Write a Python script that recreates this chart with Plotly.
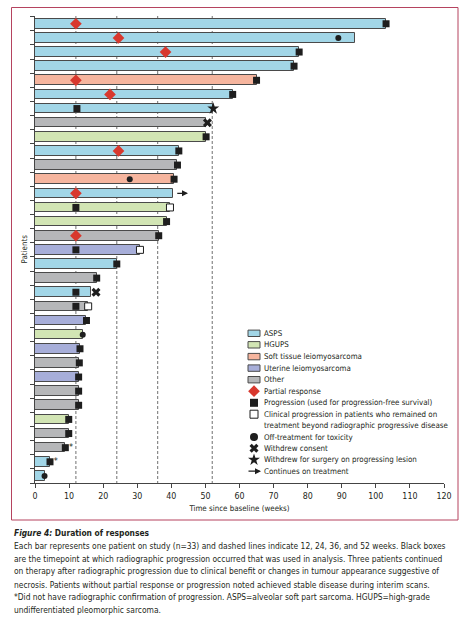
import plotly.graph_objects as go

# ---------------- data ----------------
patients = list(range(1, 34))
durations = [103, 94, 77.5, 76, 65, 58, 52.3, 50.3, 50.2, 42.2, 41.8, 40.8, 40.6, 39.6, 38.6, 36.3,
             30.8, 24, 18.1, 16.3, 15.6, 15.1, 14, 13.2, 13, 12.8, 12.8, 12.8, 9.9, 9.9, 8.9, 4.4, 2.8]
tumour = ["ASPS", "ASPS", "ASPS", "ASPS", "STLMS", "ASPS", "ASPS", "Other", "HGUPS", "ASPS", "Other",
          "STLMS", "ASPS", "HGUPS", "HGUPS", "Other", "Uterine", "ASPS", "Other", "ASPS", "Other",
          "Uterine", "HGUPS", "Uterine", "Other", "Uterine", "Other", "Other", "HGUPS", "Other",
          "Other", "ASPS", "ASPS"]

pr_pat = [1, 2, 3, 5, 6, 10, 13, 16]
pr_wk = [12, 24.5, 38.3, 12, 22, 24.5, 12, 12]

prog_pat = [1, 3, 4, 5, 6, 7, 9, 10, 11, 12, 14, 15, 16, 17, 18, 19, 20, 21, 22, 24, 25, 26, 27, 28,
            29, 30, 31, 32]
prog_wk = [103, 77.5, 76, 65, 58, 12.3, 50.2, 42.2, 41.8, 40.8, 12, 38.6, 36.3, 12, 24, 18.1, 12, 12,
           15.1, 13.2, 13, 12.8, 12.8, 12.8, 9.9, 9.9, 8.9, 4.4]

clin_pat = [14, 17, 21]
clin_wk = [39.6, 30.8, 15.6]

tox_pat = [2, 12, 23, 33]
tox_wk = [89, 27.8, 14, 2.8]

consent_pat = [8, 20]
consent_wk = [50.6, 17.9]

surgery_pat = [7]
surgery_wk = [52.3]

cont_pat = [13]
cont_from = [41.3]
cont_to = [44.9]

nonconf_pat = [31, 32]
nonconf_wk = [10.6, 6.1]

dashed_weeks = [12, 24, 36, 52]
x_ticks = list(range(0, 121, 10))

colors = {"ASPS": "#a2d6e7", "HGUPS": "#d2e5b4", "STLMS": "#f6b59e", "Uterine": "#a7aed9", "Other": "#b6b7b9"}
legend_types = [("ASPS", "ASPS"), ("HGUPS", "HGUPS"), ("STLMS", "Soft tissue leiomyosarcoma"),
                ("Uterine", "Uterine leiomyosarcoma"), ("Other", "Other")]

FONT = "DejaVu Sans Condensed, Liberation Sans Narrow, Noto Sans, sans-serif"
FS_LEG = 7.9
FS_CAP = 8.4
INK = "#231f20"
RED = "#d8382e"
DARK = "#1e1e1e"

# plot area in pixels
L, R, T, B = 35, 444, 16, 483
W, H = 465, 624


def px(xp):
    return (xp - L) / (R - L)


def py(yp):
    return (B - yp) / (B - T)


fig = go.Figure()

fig.add_trace(go.Bar(
    y=patients, x=durations, orientation="h", base=0, width=0.68,
    marker=dict(color=[colors[t] for t in tumour], line=dict(color="#4a4a4a", width=1)),
    showlegend=False, hoverinfo="x+y"))

fig.add_trace(go.Scatter(x=pr_wk, y=pr_pat, mode="markers", showlegend=False, cliponaxis=False,
                         marker=dict(symbol="diamond", size=9, color=RED)))
fig.add_trace(go.Scatter(x=prog_wk, y=prog_pat, mode="markers", showlegend=False, cliponaxis=False,
                         marker=dict(symbol="square", size=7, color=DARK)))
fig.add_trace(go.Scatter(x=clin_wk, y=clin_pat, mode="markers", showlegend=False, cliponaxis=False,
                         marker=dict(symbol="square", size=7, color="white", line=dict(color=DARK, width=1))))
fig.add_trace(go.Scatter(x=tox_wk, y=tox_pat, mode="markers", showlegend=False, cliponaxis=False,
                         marker=dict(symbol="circle", size=6, color=DARK)))
fig.add_trace(go.Scatter(x=consent_wk, y=consent_pat, mode="markers", showlegend=False, cliponaxis=False,
                         marker=dict(symbol="x", size=8, color=DARK, line=dict(width=0))))
fig.add_trace(go.Scatter(x=surgery_wk, y=surgery_pat, mode="markers", showlegend=False, cliponaxis=False,
                         marker=dict(symbol="star", size=9, color=DARK)))
fig.add_trace(go.Scatter(x=nonconf_wk, y=nonconf_pat, mode="text", text=["*"] * len(nonconf_pat),
                         textposition="middle center", showlegend=False, cliponaxis=False,
                         textfont=dict(size=9, color=INK, family=FONT)))

for p, a, b in zip(cont_pat, cont_from, cont_to):
    fig.add_annotation(x=b, y=p, ax=a, ay=p, xref="x", yref="y", axref="x", ayref="y",
                       showarrow=True, arrowhead=2, arrowsize=1, arrowwidth=1.2, arrowcolor=DARK, text="")

for w in dashed_weeks:
    fig.add_shape(type="line", x0=w, x1=w, y0=0.45, y1=33.5, xref="x", yref="y", layer="below",
                  line=dict(color="#707070", width=1, dash="3px,2px"))

# ---------- legend (manual, overlay axes in pixel units) ----------
fig.update_layout(
    xaxis2=dict(overlaying="x", range=[L, R], visible=False, fixedrange=True),
    yaxis2=dict(overlaying="y", range=[B, T], visible=False, fixedrange=True),
)
lx_sym, lx_txt = 254, 262
rows_types = [333.3, 344.8, 356.6, 368.1, 379.7]
for (key, label), yy in zip(legend_types, rows_types):
    fig.add_shape(type="rect", xref="x2", yref="y2", x0=248, x1=260, y0=yy - 3.2, y1=yy + 3.2,
                  fillcolor=colors[key], line=dict(color="#4a4a4a", width=1))
    fig.add_annotation(xref="x2", yref="y2", x=lx_txt, y=yy, text=label, showarrow=False,
                       xanchor="left", yanchor="middle", font=dict(family=FONT, size=FS_LEG, color=INK))

sym_rows = [
    (391.2, "diamond", 9, RED, None, "Partial response"),
    (402.8, "square", 8, DARK, None, "Progression (used for progression-free survival)"),
    (414.2, "square", 8, "white", DARK, "Clinical progression in patients who remained on"),
    (437.0, "circle", 8, DARK, None, "Off-treatment for toxicity"),
    (448.3, "x", 8, DARK, None, "Withdrew consent"),
    (459.8, "star", 9, DARK, None, "Withdrew for surgery on progressing lesion"),
]
for yy, sym, sz, col, lc, label in sym_rows:
    mk = dict(symbol=sym, size=sz, color=col, line=dict(width=1 if lc else 0, color=lc or col))
    fig.add_trace(go.Scatter(x=[lx_sym], y=[yy], xaxis="x2", yaxis="y2", mode="markers",
                             marker=mk, showlegend=False, hoverinfo="skip", cliponaxis=False))
    fig.add_annotation(xref="x2", yref="y2", x=lx_txt, y=yy, text=label, showarrow=False,
                       xanchor="left", yanchor="middle", font=dict(family=FONT, size=FS_LEG, color=INK))
fig.add_annotation(xref="x2", yref="y2", x=lx_txt, y=425.7,
                   text="treatment beyond radiographic progressive disease", showarrow=False,
                   xanchor="left", yanchor="middle", font=dict(family=FONT, size=FS_LEG, color=INK))
# arrow legend
fig.add_annotation(xref="x2", yref="y2", axref="x2", ayref="y2", x=261, y=471.2, ax=247, ay=471.2,
                   showarrow=True, arrowhead=2, arrowsize=1, arrowwidth=1.2, arrowcolor=DARK, text="")
fig.add_annotation(xref="x2", yref="y2", x=lx_txt, y=471.2, text="Continues on treatment", showarrow=False,
                   xanchor="left", yanchor="middle", font=dict(family=FONT, size=FS_LEG, color=INK))

# frame
fig.add_shape(type="rect", xref="paper", yref="paper", x0=px(11.5), x1=px(458), y0=py(520), y1=py(7.5),
              line=dict(color="#b5435f", width=1), fillcolor="rgba(0,0,0,0)", layer="below")

# y title
fig.add_annotation(xref="paper", yref="paper", x=px(24), y=0.5, text="Patients", textangle=-90,
                   xanchor="center", yanchor="middle",
                   showarrow=False, font=dict(family=FONT, size=FS_LEG, color=INK))

# caption
caption = [
    "<b><i>Figure 4:</i> Duration of responses</b>",
    "Each bar represents one patient on study (n=33) and dashed lines indicate 12, 24, 36, and 52 weeks. Black boxes",
    "are the timepoint at which radiographic progression occurred that was used in analysis. Three patients continued",
    "on therapy after radiographic progression due to clinical benefit or changes in tumour appearance suggestive of",
    "necrosis. Patients without partial response or progression noted achieved stable disease during interim scans.",
    "*Did not have radiographic confirmation of progression. ASPS=alveolar soft part sarcoma. HGUPS=high-grade",
    "undifferentiated pleomorphic sarcoma.",
]
cap_y = [532.8, 545.8, 558.6, 571.3, 584.6, 597.3, 609.7]
for t, yy in zip(caption, cap_y):
    fig.add_annotation(xref="paper", yref="paper", x=px(11.5), y=py(yy), text=t, showarrow=False,
                       xanchor="left", yanchor="middle", font=dict(family=FONT, size=FS_CAP, color=INK))

fig.update_layout(
    width=W, height=H,
    margin=dict(l=L, r=W - R, t=T, b=H - B, pad=0),
    paper_bgcolor="white", plot_bgcolor="rgba(0,0,0,0)",
    font=dict(family=FONT, size=FS_LEG, color=INK),
    bargap=0,
    xaxis=dict(range=[0, 120], tickvals=x_ticks, ticks="outside", ticklen=4, tickwidth=1,
               tickcolor="#444", showline=True, linecolor="#444", linewidth=1, showgrid=False,
               zeroline=False, tickfont=dict(family=FONT, size=8.8, color=INK),
               title=dict(text="Time since baseline (weeks)", standoff=5,
                          font=dict(family=FONT, size=FS_LEG, color=INK))),
    yaxis=dict(range=[33.5, 0.45], tickvals=[i + 0.5 for i in range(0, 34)], ticktext=[""] * 34,
               ticks="outside", ticklen=4, tickwidth=1, tickcolor="#444", showline=True,
               linecolor="#444", linewidth=1, showgrid=False, zeroline=False),
)

fig.write_html("out.html", config={"displayModeBar": False},
               post_script="document.body.style.margin='0';document.body.style.overflow='hidden';")
